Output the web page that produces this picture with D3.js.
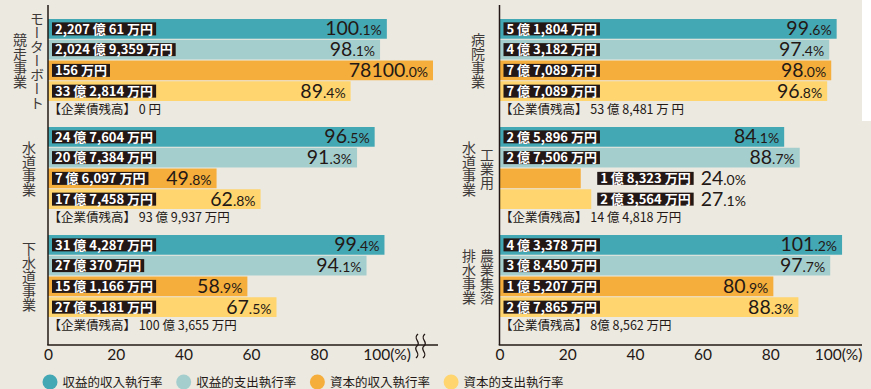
<!DOCTYPE html>
<html><head><meta charset="utf-8">
<script src="https://cdn.jsdelivr.net/npm/d3@7"></script>
<style>
html,body{margin:0;padding:0;background:#ECE9E0;}
svg{display:block;}
</style></head><body>
<svg id="chart" width="871" height="389"></svg>
<script>
// ---- data ----
const categories = ["モーターボート競走事業", "水道事業", "下水道事業", "病院事業", "工業用水道事業", "農業集落排水事業"];
const categoryColumns = [["モーターボート", "競走事業"], ["水道事業"], ["下水道事業"], ["病院事業"], ["工業用", "水道事業"], ["農業集落", "排水事業"]];
const seriesNames = ["収益的収入執行率", "収益的支出執行率", "資本的収入執行率", "資本的支出執行率"];
const seriesColors = ["#43A7B4", "#A4CECE", "#F5AE3C", "#FED56E"];
const rates = [
  [100.1, 98.1, 78100.0, 89.4],
  [96.5, 91.3, 49.8, 62.8],
  [99.4, 94.1, 58.9, 67.5],
  [99.6, 97.4, 98.0, 96.8],
  [84.1, 88.7, 24.0, 27.1],
  [101.2, 97.7, 80.9, 88.3]
];
const amounts = [
  ["2,207 億 61 万円", "2,024 億 9,359 万円", "156 万円", "33 億 2,814 万円"],
  ["24 億 7,604 万円", "20 億 7,384 万円", "7 億 6,097 万円", "17 億 7,458 万円"],
  ["31 億 4,287 万円", "27 億 370 万円", "15 億 1,166 万円", "27 億 5,181 万円"],
  ["5 億 1,804 万円", "4 億 3,182 万円", "7 億 7,089 万円", "7 億 7,089 万円"],
  ["2 億 5,896 万円", "2 億 7,506 万円", "1 億 8,323 万円", "2 億 3,564 万円"],
  ["4 億 3,378 万円", "3 億 8,450 万円", "1 億 5,207 万円", "2 億 7,865 万円"]
];
const debts = ["0 円", "93 億 9,937 万円", "100 億 3,655 万円", "53 億 8,481 万 円", "14 億 4,818 万円", "8億 8,562 万円"];
const debtPrefix = "【企業債残高】";
const tickValues = [0, 20, 40, 60, 80, 100];
const tickLabels = ["0", "20", "40", "60", "80", "100(%)"];

// ---- layout ----
const W = 871, H = 389;
const INK = "#231815";
const JP = "'Noto Sans CJK JP','Noto Sans',sans-serif";
const NUM = "Lato,'Open Sans',sans-serif";
const svg = d3.select("#chart");
svg.append("rect").attr("width", W).attr("height", H).attr("fill", "#ECE9E0");
svg.append("rect").attr("x", 862).attr("y", 0).attr("width", 9).attr("height", 121).attr("fill", "#ffffff");

const panels = [
  {x0: 48, x1: 386.5, axisTop: 5, axisY: 345, axisEnd: 438, clip: 433, cats: [0, 1, 2], brk: true, catX: 29, colX: [37, 20]},
  {x0: 499.5, x1: 838, axisTop: 5, axisY: 345, axisEnd: 862, clip: 861, cats: [3, 4, 5], brk: false, catX: 478, colX: [487, 469]}
];

const groupY = d3.scaleBand().domain([0, 1, 2]).range([19, 317]).paddingInner(26 / 108);
const barY = d3.scaleBand().domain(seriesNames).range([0, groupY.bandwidth()]).paddingInner(0.05);

panels.forEach(p => {
  const x = d3.scaleLinear().domain([0, 100]).range([p.x0, p.x1]);
  const g = svg.append("g");

  p.cats.forEach((ci, gi) => {
    const top = groupY(gi);
    const gg = g.append("g");
    // category label (vertical)
    const cols = categoryColumns[ci];
    const cy = top + groupY.bandwidth() / 2 + 1;
    cols.forEach((c, k) => {
      gg.append("text")
        .attr("x", cols.length === 1 ? p.catX : p.colX[k])
        .attr("y", cy)
        .attr("text-anchor", "middle")
        .style("writing-mode", "vertical-rl")
        .style("font-family", JP).style("font-size", "14px")
        .attr("fill", "#3e3a39")
        .text(c);
    });

    const vals = rates[ci];
    const items = vals.map((v, si) => ({v, si, name: seriesNames[si], amt: amounts[ci][si]}));
    items.forEach(d => {
      d.y = top + barY(d.name);
      d.h = barY.bandwidth();
      d.end = Math.min(x(d.v), p.clip);
    });
    // bars
    gg.selectAll("rect.bar").data(items).join("rect").attr("class", "bar")
      .attr("x", p.x0).attr("y", d => d.y)
      .attr("width", d => d.end - p.x0).attr("height", d => d.h)
      .attr("fill", d => seriesColors[d.si]);

    // labels
    items.forEach(d => {
      const lab = gg.append("g");
      const t = lab.append("text")
        .style("font-family", JP).style("font-size", "13px").style("font-weight", "700")
        .attr("fill", "#fff").text(d.amt);
      d.tw = t.node().getComputedTextLength();
      d.t = t; d.lab = lab;
      const vt = gg.append("text").attr("fill", INK).style("font-family", NUM);
      const parts = d.v.toFixed(1).split(".");
      vt.append("tspan").style("font-size", "19.5px").text(parts[0]);
      vt.append("tspan").style("font-size", "14px").text("." + parts[1] + "%");
      d.vt = vt;
      d.vw = vt.node().getComputedTextLength();
      d.boxW = d.tw + 6;
      d.inside = (p.x0 + 4 + d.boxW + 12 + d.vw + 5) <= d.end;
    });
    const outs = items.filter(d => !d.inside);
    const outX = outs.length ? d3.max(outs, d => d.end) + 6 : 0;
    items.forEach(d => {
      const bx = d.inside ? p.x0 + 4 : outX;
      const by = d.y + d.h / 2 - 6.5;
      d.lab.insert("rect", "text").attr("x", bx).attr("y", by).attr("width", d.boxW).attr("height", 13).attr("fill", INK);
      d.t.attr("x", bx + 3).attr("y", by + 11.2);
      const base = d.y + d.h - 3.5;
      if (d.inside) d.vt.attr("x", d.end - 5).attr("y", base).attr("text-anchor", "end");
      else d.vt.attr("x", bx + d.boxW + 7).attr("y", base).attr("text-anchor", "start");
    });

    // debt line
    gg.append("text").attr("x", p.x0 + 0.5).attr("y", top + groupY.bandwidth() + 13)
      .style("font-family", JP).style("font-size", "12.5px").attr("fill", INK)
      .text(debtPrefix + " " + debts[ci]);
  });

  // axes
  g.append("line").attr("x1", p.x0).attr("x2", p.x0).attr("y1", p.axisTop).attr("y2", p.axisY)
    .attr("stroke", INK).attr("stroke-width", 1.5);
  g.append("line").attr("x1", p.x0 - 0.75).attr("x2", p.axisEnd).attr("y1", p.axisY).attr("y2", p.axisY)
    .attr("stroke", INK).attr("stroke-width", 1.5);
  const axis = d3.axisBottom(x).tickValues(tickValues).tickSize(0).tickPadding(0)
    .tickFormat((d, i) => tickLabels[i]);
  const ag = g.append("g").attr("transform", `translate(0,${p.axisY})`).call(axis);
  ag.select(".domain").remove();
  ag.selectAll("text").attr("y", 15).attr("dy", 0)
    .style("font-family", NUM).style("font-size", "15.5px").attr("fill", INK);

  if (p.brk) {
    [417, 424].forEach(bx => {
      g.append("path")
        .attr("d", `M${bx + 1},334 C${bx - 5},339 ${bx + 5},342 ${bx},346 C${bx - 5},350 ${bx + 5},353 ${bx - 1},358`)
        .attr("fill", "none").attr("stroke", INK).attr("stroke-width", 1.3);
    });
  }
});

// legend
const lg = svg.append("g");
seriesNames.forEach((s, i) => {
  const cx = 50 + i * 133.7;
  lg.append("circle").attr("cx", cx).attr("cy", 382).attr("r", 7.5).attr("fill", seriesColors[i]);
  lg.append("text").attr("x", cx + 12.5).attr("y", 386.5)
    .style("font-family", JP).style("font-size", "12.5px").attr("fill", INK).text(s);
});
</script>
</body></html>
